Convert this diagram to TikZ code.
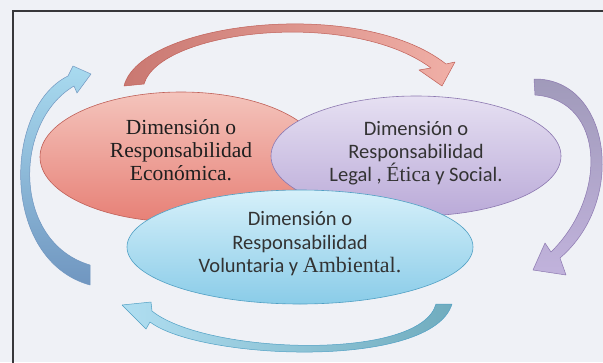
\documentclass[tikz,border=0pt]{standalone}
\usepackage{fontspec}
\setmainfont{Carlito}
\newfontfamily\serifdim{Liberation Serif}
\usetikzlibrary{shapes.geometric}

\definecolor{fondo}{RGB}{239,241,246}
\definecolor{marco}{RGB}{55,55,58}
\definecolor{rojoclaro}{RGB}{244,196,188}
\definecolor{rojo}{RGB}{231,128,118}
\definecolor{rojoborde}{RGB}{192,96,88}
\definecolor{liladoclaro}{RGB}{230,224,242}
\definecolor{lila}{RGB}{186,170,216}
\definecolor{lilaborde}{RGB}{140,120,176}
\definecolor{celesteclaro}{RGB}{214,240,250}
\definecolor{celeste}{RGB}{138,204,232}
\definecolor{celesteborde}{RGB}{80,160,196}
\definecolor{azulflecha}{RGB}{112,150,192}
\definecolor{tealflecha}{RGB}{112,172,190}
\definecolor{lilaflecha}{RGB}{160,154,186}

\begin{document}
\begin{tikzpicture}[x=1pt,y=-1pt,
	dimension/.style={ellipse, draw, line width=0.6pt, inner sep=0pt},
	rotulo/.style={align=center, inner sep=0pt, text=black!80},
	flecha/.style={line width=0.5pt, line join=round}]
		%%%%% FONDO %%%%%
		\useasboundingbox (0,0) rectangle (603,362);
		\fill[fondo] (0,0) rectangle (603,362);
		\draw[line width=2pt, color=marco] (13,11) rectangle (660,420);
		
		%%%%% ELIPSES %%%%%
		\node[dimension, minimum width=282pt, minimum height=130pt, draw=rojoborde, top color=rojoclaro, bottom color=rojo] (eco) at (181,157) {};
		\node[rotulo, font=\serifdim\fontsize{21.5}{23}\selectfont, text=black!88] (ecotxt) at ([yshift=7pt]eco.center)
			{Dimensión o\\Responsabilidad\\Económica.};
		
		\node[dimension, minimum width=290pt, minimum height=120pt, draw=lilaborde, top color=liladoclaro, bottom color=lila] (legal) at (416,156) {};
		\node[rotulo, font=\fontsize{20.5}{23}\selectfont] (legaltxt) at ([yshift=3pt]legal.center)
			{Dimensión o\\Responsabilidad\\Legal , {\serifdim\fontsize{21.5}{23}\selectfont Ética} y Social.};
		
		\node[dimension, minimum width=346pt, minimum height=114pt, draw=celesteborde, top color=celesteclaro, bottom color=celeste] (amb) at (300,247) {};
		\node[rotulo, font=\fontsize{20.5}{23.5}\selectfont] (ambtxt) at ([yshift=3pt]amb.center)
			{Dimensión o\\Responsabilidad\\Voluntaria y {\serifdim\fontsize{22}{23.5}\selectfont Ambiental.}};
		
		%%%%% FLECHAS %%%%%
		% arriba
		\draw[flecha, draw=rojoborde, left color=rojoborde!85, right color=rojoclaro!70!rojo]
			(124,86) .. controls (140,22) and (360,-4) .. (446,64)
			-- (455,62) -- (442,86) -- (419,70) -- (431,68)
			.. controls (350,8) and (160,30) .. (144,84) -- cycle;
		% derecha
		\draw[flecha, draw=lilaborde, top color=lilaflecha, bottom color=lila!90]
			(534,79) .. controls (610,78) and (628,200) .. (560,258)
			-- (566,275) -- (533,270) -- (545,243) -- (551,252)
			.. controls (608,196) and (605,100) .. (535,95) -- cycle;
		% abajo
		\draw[flecha, draw=celesteborde, right color=tealflecha, left color=celesteclaro!50!celeste]
			(452,304) .. controls (432,370) and (200,360) .. (150,322)
			-- (146,329) -- (122,305) -- (151,302) -- (152,311)
			.. controls (205,354) and (420,362) .. (436,304) -- cycle;
		% izquierda
		\draw[flecha, draw=azulflecha, bottom color=azulflecha, top color=celesteclaro!40!celeste]
			(90,285) .. controls (0,260) and (3,108) .. (68,76)
			-- (73,66) -- (91,74) -- (77,93) -- (74,86)
			.. controls (13,122) and (12,242) .. (90,265) -- cycle;
\end{tikzpicture}
\end{document}
